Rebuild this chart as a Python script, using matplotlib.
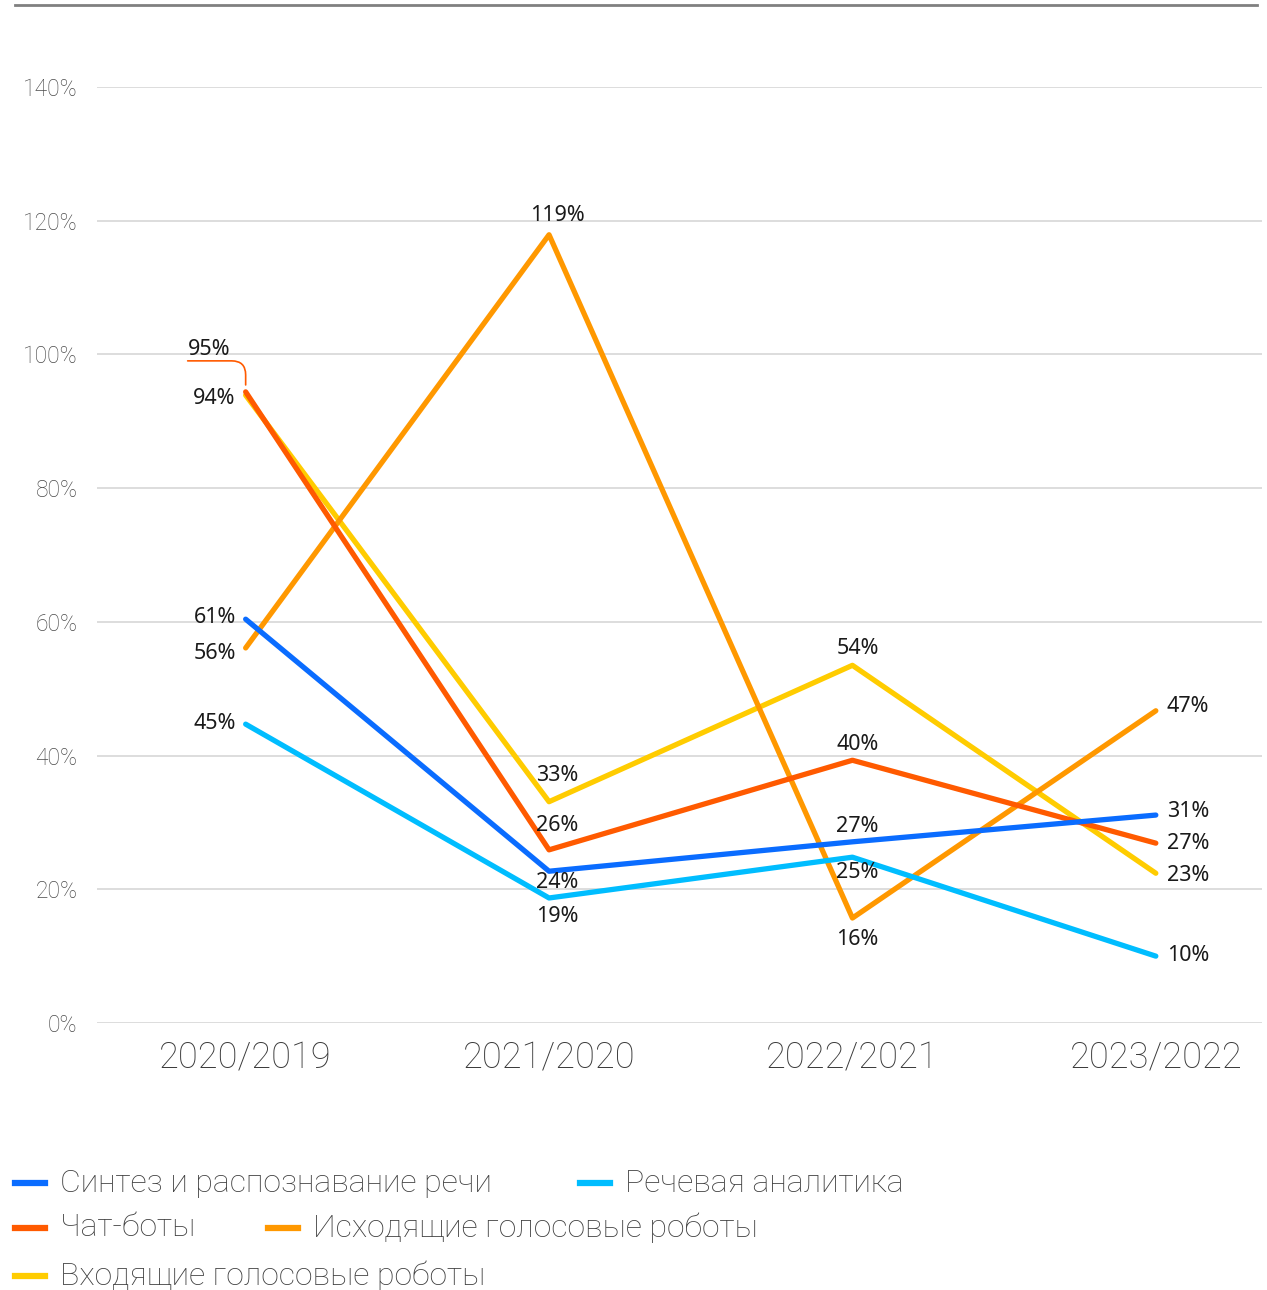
import matplotlib
matplotlib.use('Agg')
import matplotlib.pyplot as plt
from matplotlib.lines import Line2D

# Data (growth, % vs previous year)
periods = ["2020/2019", "2021/2020", "2022/2021", "2023/2022"]
series_names = [
    "Синтез и распознавание речи",
    "Речевая аналитика",
    "Чат-боты",
    "Исходящие голосовые роботы",
    "Входящие голосовые роботы",
]
synth = [60.4, 22.7, 27.1, 31.1]
analytics = [44.7, 18.7, 24.8, 10.0]
chatbots = [94.4, 25.9, 39.3, 26.9]
outgoing = [56.1, 117.9, 15.7, 46.7]
incoming = [93.9, 33.1, 53.5, 22.4]

synth_lbl = ["61%", "24%", "27%", "31%"]
analytics_lbl = ["45%", "19%", "25%", "10%"]
chatbots_lbl = ["95%", "26%", "40%", "27%"]
outgoing_lbl = ["56%", "119%", "16%", "47%"]
incoming_lbl = ["94%", "33%", "54%", "23%"]

colors = ["#0a6cff", "#00bdff", "#ff5a00", "#ff9800", "#ffcc00"]

# label offsets in pixels (dx, dy down) per series per point
px_off = {
    0: [(-10, -2), (8, 11), (5, -15), (11, -4)],
    1: [(-10, -1), (8, 19), (5, 15), (11, -1)],
    2: [(None, None), (8, -24), (5, -16), (11, 0)],
    3: [(-10, 6), (8, -19), (5, 21), (11, -4)],
    4: [(-10, 3), (8, -26), (5, -17), (11, 2)],
}

values = [synth, analytics, chatbots, outgoing, incoming]
labels = [synth_lbl, analytics_lbl, chatbots_lbl, outgoing_lbl, incoming_lbl]

fig = plt.figure(figsize=(12.67, 12.9), dpi=100)
ax = fig.add_axes([97 / 1267, 1 - 1023 / 1290, (1262 - 97) / 1267, (1023 - 87) / 1290])

x = list(range(len(periods)))
k = 0.72  # px -> points at 100 dpi

for i in [4, 3, 2, 1, 0]:
    ax.plot(x, values[i], color=colors[i], lw=3.8, solid_joinstyle='round',
            solid_capstyle='round', zorder=3)

for i in range(5):
    for j in range(4):
        dx, dy = px_off[i][j]
        if dx is None:
            continue
        ha = 'right' if j == 0 else ('left' if j == 3 else 'center')
        ax.annotate(labels[i][j], xy=(x[j], values[i][j]), xytext=(dx * k, -dy * k),
                    textcoords='offset points', ha=ha, va='center', fontsize=15.5,
                    color='#1a1a1a', family='Noto Sans', weight='medium', zorder=5)

# 95% label with connector line
ax.annotate(chatbots_lbl[0], xy=(x[0], chatbots[0]), xytext=(-58 * k, 42 * k),
            textcoords='offset points', ha='left', va='center', fontsize=15.5,
            color='#1a1a1a', family='Noto Sans', weight='medium', zorder=5)
ax.annotate('', xy=(x[0], chatbots[0]), xytext=(-58 * k, 31 * k),
            textcoords='offset points',
            arrowprops=dict(arrowstyle='-', color=colors[2], lw=1.2, shrinkA=0, shrinkB=5,
                            connectionstyle='angle,angleA=0,angleB=90,rad=14'))

ax.set_xlim(-0.49, 3.35)
ax.set_ylim(0, 140)
ax.set_yticks(range(0, 141, 20))
ax.set_yticklabels([f"{v}%" for v in range(0, 141, 20)], fontsize=16.5, color='#4a4a4a',
                   family='Roboto', weight='light')
ax.set_xticks(x)
ax.set_xticklabels(periods, fontsize=26, color='#3a3a3a', family='Roboto', weight='light')
ax.tick_params(length=0)
ax.tick_params(axis='y', pad=14)
ax.tick_params(axis='x', pad=12)
ax.grid(axis='y', color='#dddddd', lw=1.4)
ax.set_axisbelow(True)
for s in ax.spines.values():
    s.set_visible(False)

# top rule
fig.add_artist(Line2D([15 / 1267, 1257 / 1267], [1 - 5 / 1290] * 2, color='#808080', lw=2))

# legend laid out in rows
legend_pos = [(15, 1183), (580, 1183), (15, 1228), (268, 1228), (15, 1276)]
for i, (lx, ly) in enumerate(legend_pos):
    yy = 1 - ly / 1290
    fig.add_artist(Line2D([lx / 1267, (lx + 30) / 1267], [yy, yy], color=colors[i], lw=4.5))
    fig.text((lx + 45) / 1267, yy, series_names[i], fontsize=23, color='#3f3f3f',
             family='Roboto', weight='light', va='center', ha='left')

fig.savefig("out.png", dpi=100)
